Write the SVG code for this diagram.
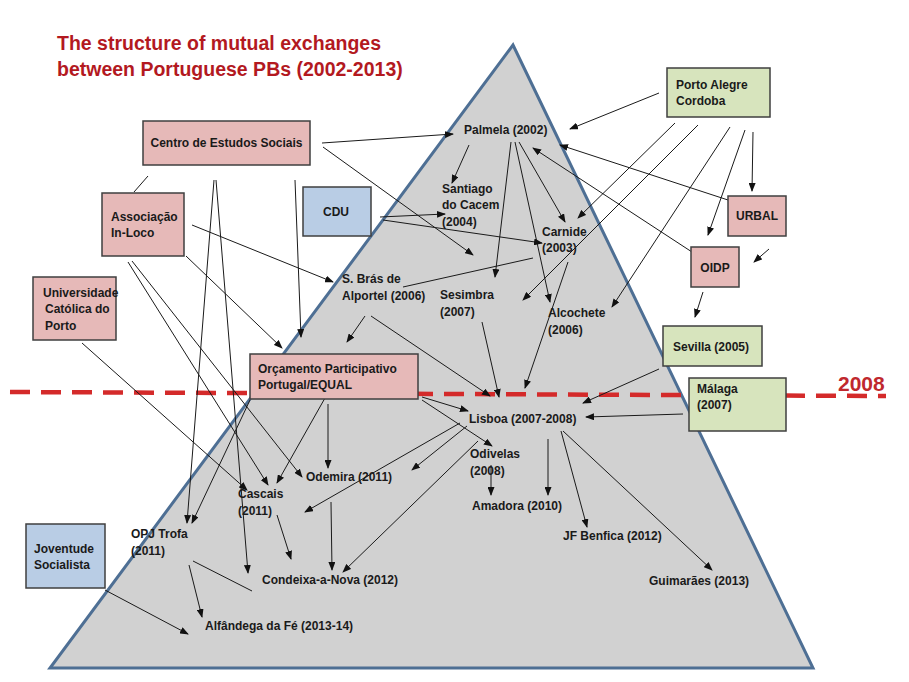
<svg xmlns="http://www.w3.org/2000/svg" width="909" height="682" viewBox="0 0 909 682">
<defs>
<marker id="ah" markerWidth="9" markerHeight="7" refX="8" refY="3.5" orient="auto" markerUnits="userSpaceOnUse">
<path d="M0,0 L9,3.5 L0,7 z" fill="#111"/>
</marker>
<style>
.t{font-family:"Liberation Sans",Arial,sans-serif;font-weight:bold;font-size:12px;fill:#1a1a1a}
.title{font-family:"Liberation Sans",Arial,sans-serif;font-weight:bold;font-size:19.5px;fill:#b3191f}
.pink{fill:#e6b9b8;stroke:#3f3f3f;stroke-width:1.5}
.green{fill:#d7e4bd;stroke:#3f3f3f;stroke-width:1.5}
.blue{fill:#b9cde5;stroke:#3f3f3f;stroke-width:1.5}
#connectors line{stroke:#1a1a1a;stroke-width:1;fill:none}
#connectors line.a{marker-end:url(#ah)}
</style>
</defs>
<rect width="909" height="682" fill="#ffffff"/>
<polygon id="pyramid" points="513,45 813,668 50,668" fill="#d1d1d1" stroke="#4e6f94" stroke-width="3" stroke-linejoin="miter"/>
<g id="title">
<text class="title" x="57" y="50">The structure of mutual exchanges</text>
<text class="title" x="57" y="76">between Portuguese PBs (2002-2013)</text>
</g>
<g id="line2008">
<line x1="10" y1="392" x2="886" y2="396" stroke="#d42a2a" stroke-width="4.5" stroke-dasharray="20 11"/>
<text x="838" y="391" font-family="Liberation Sans, Arial, sans-serif" font-weight="bold" font-size="21" fill="#c0282d">2008</text>
</g>
<g id="connectors">
<line class="a" x1="659" y1="93" x2="570" y2="129"/>
<line class="a" x1="322" y1="143" x2="453" y2="134"/>
<line class="a" x1="323" y1="147" x2="473" y2="255"/>
<line class="a" x1="469" y1="145" x2="452" y2="183"/>
<line class="a" x1="511" y1="142" x2="495" y2="277"/>
<line class="a" x1="519" y1="142" x2="565" y2="222"/>
<line class="a" x1="515" y1="142" x2="550" y2="302"/>
<line class="a" x1="728" y1="200" x2="560" y2="145"/>
<line class="a" x1="692" y1="252" x2="533" y2="148"/>
<line class="a" x1="675" y1="123" x2="578" y2="218"/>
<line class="a" x1="698" y1="125" x2="523" y2="300"/>
<line class="a" x1="730" y1="127" x2="612" y2="307"/>
<line class="a" x1="745" y1="130" x2="708" y2="235"/>
<line class="a" x1="753" y1="132" x2="752" y2="191"/>
<line class="a" x1="769" y1="249" x2="754" y2="262"/>
<line class="a" x1="703" y1="292" x2="695" y2="317"/>
<line class="a" x1="659" y1="369" x2="583" y2="403"/>
<line class="a" x1="683" y1="414" x2="586" y2="417"/>
<line class="a" x1="380" y1="217" x2="445" y2="214"/>
<line class="a" x1="383" y1="220" x2="542" y2="243"/>
<line class="a" x1="192" y1="225" x2="333" y2="282"/>
<line x1="533" y1="258" x2="403" y2="287"/>
<line class="a" x1="568" y1="262" x2="525" y2="388"/>
<line class="a" x1="482" y1="322" x2="499" y2="397"/>
<line class="a" x1="371" y1="316" x2="490" y2="396"/>
<line class="a" x1="365" y1="316" x2="347" y2="342"/>
<line class="a" x1="295" y1="180" x2="301" y2="337"/>
<line class="a" x1="186" y1="256" x2="282" y2="348"/>
<line class="a" x1="214" y1="180" x2="187" y2="523"/>
<line class="a" x1="216" y1="180" x2="248" y2="573"/>
<line class="a" x1="128" y1="262" x2="268" y2="485"/>
<line class="a" x1="132" y1="261" x2="302" y2="477"/>
<line class="a" x1="82" y1="343" x2="247" y2="490"/>
<line class="a" x1="325" y1="398" x2="277" y2="483"/>
<line class="a" x1="328" y1="404" x2="328" y2="468"/>
<line class="a" x1="422" y1="397" x2="468" y2="411"/>
<line class="a" x1="422" y1="400" x2="492" y2="446"/>
<line class="a" x1="250" y1="400" x2="192" y2="523"/>
<line class="a" x1="460" y1="423" x2="305" y2="512"/>
<line class="a" x1="467" y1="426" x2="412" y2="470"/>
<line class="a" x1="478" y1="441" x2="343" y2="572"/>
<line class="a" x1="491" y1="465" x2="491" y2="495"/>
<line class="a" x1="548" y1="439" x2="548" y2="495"/>
<line class="a" x1="561" y1="431" x2="587" y2="527"/>
<line class="a" x1="563" y1="431" x2="712" y2="570"/>
<line class="a" x1="331" y1="502" x2="332" y2="570"/>
<line class="a" x1="277" y1="515" x2="291" y2="559"/>
<line class="a" x1="189" y1="565" x2="202" y2="617"/>
<line x1="193" y1="561" x2="252" y2="591"/>
<line class="a" x1="105" y1="590" x2="188" y2="634"/>
<line x1="148" y1="176" x2="134" y2="192"/>
</g>
<g id="porto-alegre"><rect class="green" x="667" y="68" width="103" height="49"/><text class="t" x="676" y="89">Porto Alegre</text><text class="t" x="676" y="105">Cordoba</text></g>
<g id="centro"><rect class="pink" x="143" y="121" width="167" height="44"/><text class="t" x="226.5" y="147" text-anchor="middle">Centro de Estudos Sociais</text></g>
<g id="associacao"><rect class="pink" x="102" y="193" width="82" height="63"/><text class="t" x="111" y="221">Associação</text><text class="t" x="111" y="237">In-Loco</text></g>
<g id="universidade"><rect class="pink" x="33" y="277" width="83" height="63"/><text class="t" x="43" y="297">Universidade</text><text class="t" x="45" y="313">Católica do</text><text class="t" x="45" y="330">Porto</text></g>
<g id="cdu"><rect class="blue" x="303" y="187" width="68" height="49"/><text class="t" x="336" y="216" text-anchor="middle">CDU</text></g>
<g id="urbal"><rect class="pink" x="728" y="196" width="58" height="40"/><text class="t" x="757" y="220" text-anchor="middle">URBAL</text></g>
<g id="oidp"><rect class="pink" x="691" y="247" width="48" height="40"/><text class="t" x="715" y="272" text-anchor="middle">OIDP</text></g>
<g id="sevilla"><rect class="green" x="663" y="326" width="99" height="40"/><text class="t" x="711" y="351" text-anchor="middle">Sevilla (2005)</text></g>
<g id="malaga"><rect class="green" x="689" y="378" width="97" height="53"/><text class="t" x="697" y="393">Málaga</text><text class="t" x="697" y="409">(2007)</text></g>
<g id="orcamento"><rect class="pink" x="250" y="354" width="168" height="45"/><text class="t" x="258" y="373">Orçamento Participativo</text><text class="t" x="258" y="389">Portugal/EQUAL</text></g>
<g id="joventude"><rect class="blue" x="26" y="524" width="79" height="64"/><text class="t" x="34" y="553">Joventude</text><text class="t" x="34" y="569">Socialista</text></g>
<g id="palmela"><text class="t" x="464" y="134">Palmela (2002)</text></g>
<g id="santiago"><text class="t" x="442" y="193">Santiago</text><text class="t" x="442" y="209">do Cacem</text><text class="t" x="442" y="226">(2004)</text></g>
<g id="carnide"><text class="t" x="542" y="236">Carnide</text><text class="t" x="542" y="252">(2003)</text></g>
<g id="sbras"><text class="t" x="342" y="283">S. Brás de</text><text class="t" x="342" y="300">Alportel (2006)</text></g>
<g id="sesimbra"><text class="t" x="440" y="299">Sesimbra</text><text class="t" x="440" y="316">(2007)</text></g>
<g id="alcochete"><text class="t" x="548" y="317">Alcochete</text><text class="t" x="548" y="334">(2006)</text></g>
<g id="lisboa"><text class="t" x="469" y="423">Lisboa (2007-2008)</text></g>
<g id="odivelas"><text class="t" x="470" y="458">Odivelas</text><text class="t" x="470" y="475">(2008)</text></g>
<g id="odemira"><text class="t" x="306" y="481">Odemira (2011)</text></g>
<g id="cascais"><text class="t" x="238" y="498">Cascais</text><text class="t" x="238" y="515">(2011)</text></g>
<g id="amadora"><text class="t" x="472" y="510">Amadora (2010)</text></g>
<g id="jfbenfica"><text class="t" x="563" y="540">JF Benfica (2012)</text></g>
<g id="guimaraes"><text class="t" x="649" y="585">Guimarães (2013)</text></g>
<g id="opjtrofa"><text class="t" x="131" y="538">OPJ Trofa</text><text class="t" x="131" y="555">(2011)</text></g>
<g id="condeixa"><text class="t" x="262" y="584">Condeixa-a-Nova (2012)</text></g>
<g id="alfandega"><text class="t" x="205" y="630">Alfândega da Fé (2013-14)</text></g>
</svg>
